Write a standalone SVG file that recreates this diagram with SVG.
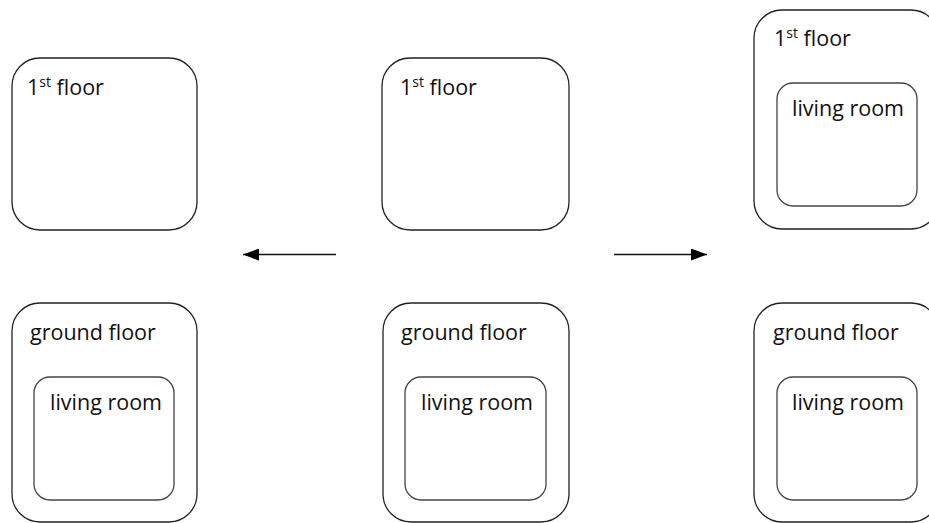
<svg xmlns="http://www.w3.org/2000/svg" width="929" height="523" viewBox="0 0 929 523">
<style>
.outer{fill:none;stroke:#222;stroke-width:1.3}
.inner{fill:none;stroke:#444;stroke-width:1.3}
.t{font-family:"Open Sans","DejaVu Sans",sans-serif;font-size:21.5px;fill:#111}
.sup{font-size:14px}
.conn{stroke:#111;stroke-width:1.3;fill:none}
</style>
<defs>
<marker id="ah" viewBox="0 0 16 12" refX="16" refY="6" markerWidth="16" markerHeight="12" markerUnits="userSpaceOnUse" orient="auto">
<path d="M0,0 L16,6 L0,12 Z" fill="#000"/>
</marker>
</defs>
<rect width="929" height="523" fill="#fff"/>
<g id="left-first">
<rect class="outer" x="12" y="58" width="185" height="172" rx="28"/>
<text class="t" x="27" y="95">1<tspan class="sup" dy="-8">st</tspan><tspan dy="8"> floor</tspan></text>
</g>
<g id="left-ground">
<rect class="outer" x="12" y="303" width="185" height="219" rx="28"/>
<text class="t" x="30" y="340">ground floor</text>
<g id="left-living">
<rect class="inner" x="34" y="377" width="140" height="123" rx="16"/>
<text class="t" x="50" y="410">living room</text>
</g>
</g>
<g id="mid-first">
<rect class="outer" x="382" y="58" width="187" height="172" rx="28"/>
<text class="t" x="400" y="95">1<tspan class="sup" dy="-8">st</tspan><tspan dy="8"> floor</tspan></text>
</g>
<g id="mid-ground">
<rect class="outer" x="383" y="303" width="186" height="219" rx="28"/>
<text class="t" x="401" y="340">ground floor</text>
<g id="mid-living">
<rect class="inner" x="405" y="377" width="141" height="123" rx="16"/>
<text class="t" x="421" y="410">living room</text>
</g>
</g>
<g id="right-first">
<rect class="outer" x="754" y="10" width="185" height="219" rx="28"/>
<text class="t" x="774" y="46">1<tspan class="sup" dy="-8">st</tspan><tspan dy="8"> floor</tspan></text>
<g id="right-first-living">
<rect class="inner" x="777" y="83" width="140" height="123" rx="16"/>
<text class="t" x="792" y="116">living room</text>
</g>
</g>
<g id="right-ground">
<rect class="outer" x="754" y="303" width="185" height="219" rx="28"/>
<text class="t" x="773" y="340">ground floor</text>
<g id="right-ground-living">
<rect class="inner" x="777" y="377" width="140" height="123" rx="16"/>
<text class="t" x="792" y="410">living room</text>
</g>
</g>
<g id="connectors">
<line class="conn" x1="336" y1="254.5" x2="243" y2="254.5" marker-end="url(#ah)"/>
<line class="conn" x1="614" y1="254.5" x2="707" y2="254.5" marker-end="url(#ah)"/>
</g>
</svg>
